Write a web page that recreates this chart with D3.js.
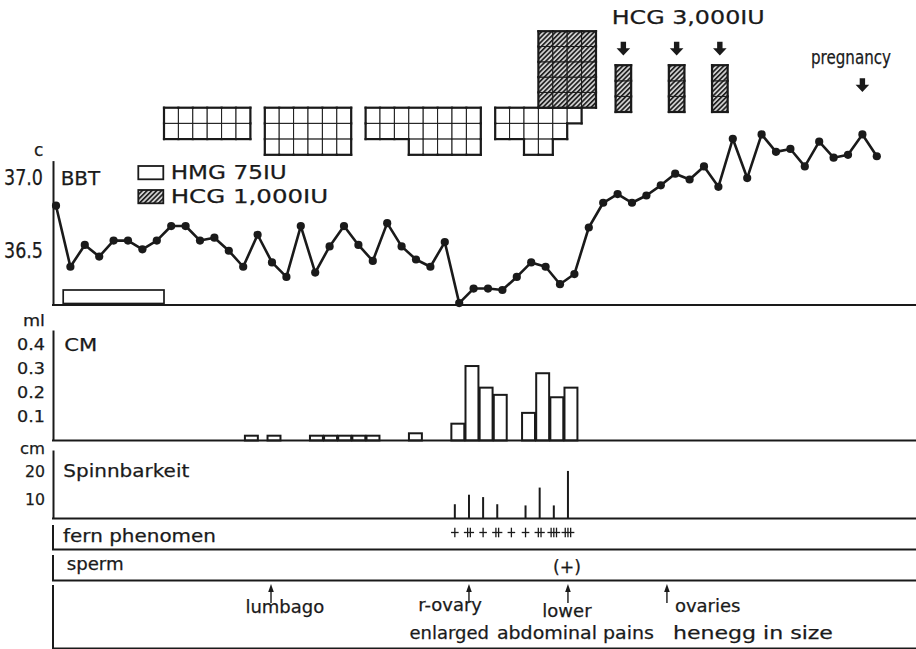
<!DOCTYPE html>
<html>
<head>
<meta charset="utf-8">
<title>BBT chart</title>
<script src="https://cdn.jsdelivr.net/npm/d3@7"></script>
<style>
  body { margin: 0; background: #fff; }
  svg { display: block; }
  text { font-family: "DejaVu Sans", "Liberation Sans", sans-serif; fill: #1a1a1a; stroke: #1a1a1a; stroke-width: 0.25; }
</style>
</head>
<body>
<script>
// ---- values ----

// basal body temperature, one reading per cycle day (day 0 .. 57)
const bbtTemps = [
  36.81, 36.39, 36.54, 36.46, 36.57, 36.57, 36.51, 36.57, 36.67, 36.67,
  36.57, 36.59, 36.50, 36.39, 36.61, 36.42, 36.32, 36.67, 36.35, 36.53,
  36.67, 36.54, 36.43, 36.69, 36.53, 36.44, 36.39, 36.56, 36.14, 36.24,
  36.24, 36.23, 36.32, 36.42, 36.39, 36.27, 36.34, 36.66, 36.83, 36.89,
  36.83, 36.88, 36.95, 37.03, 36.99, 37.08, 36.94, 37.27, 37.00, 37.30,
  37.18, 37.20, 37.08, 37.25, 37.14, 37.16, 37.30, 37.15
];
const bbtTicks = [36.5, 37.0];

// HMG 75IU ampoules per day (open cells)
const hmgDays   = [8, 9, 10, 11, 12, 13, 15, 16, 17, 18, 19, 20, 22, 23, 24, 25, 26, 27, 28, 29, 31, 32, 33, 34, 35, 36];
const hmgCounts = [2, 2, 2, 2, 2, 2, 3, 3, 3, 3, 3, 3, 2, 2, 2, 3, 3, 3, 3, 3, 2, 2, 3, 3, 2, 1];
// HCG 1,000IU ampoules per day (hatched cells)
const hcgDays   = [34, 35, 36, 37];
const hcgCounts = [5, 5, 5, 5];
// HCG 3,000IU shots
const hcg3000Days   = [39.4, 43.1, 46.1];
const hcg3000Counts = [3, 3, 3];
const pregnancyDay = 56;
// open bar at the foot of the BBT panel (first and last day)
const hmgBarDays = [1, 7];

// cervical mucus, ml
const cmDays   = [13.4, 15, 18, 19, 20, 21, 22, 25, 28, 29, 30, 31, 33, 34, 35, 36];
const cmValues = [0.02, 0.02, 0.02, 0.02, 0.02, 0.02, 0.02, 0.03, 0.07, 0.31, 0.22, 0.19, 0.115, 0.28, 0.18, 0.22];
const cmTicks  = [0.1, 0.2, 0.3, 0.4];

// Spinnbarkeit, cm
const spinnDays   = [28, 29, 30, 31, 33, 34, 35, 36];
const spinnValues = [6, 10, 9, 6, 5.5, 13, 5.5, 20];
const spinnTicks  = [10, 20];

// fern phenomen grade (+, ++, +++)
const fernDays   = [28, 29, 30, 31, 32, 33, 34, 35, 36];
const fernGrades = [1, 2, 1, 2, 1, 1, 2, 3, 3];

const spermDay = 36;

// complaints / findings
const eventDays   = [15, 29, 36, 43];
const eventLabels = [["lumbago"], ["r-ovary", "enlarged"], ["lower", "abdominal pains"], ["ovaries", "henegg in size"]];

// ---- layout ----
const W = 916, H = 649;
const axisX = 53, rightX = 916;

const svg = d3.select("body").append("svg")
  .attr("width", W)
  .attr("height", H)
  .attr("viewBox", `0 0 ${W} ${H}`);

const defs = svg.append("defs");
const hatch = defs.append("pattern")
  .attr("id", "hatch")
  .attr("patternUnits", "userSpaceOnUse")
  .attr("width", 3.4).attr("height", 3.4)
  .attr("patternTransform", "rotate(45)");
hatch.append("rect").attr("width", 3.4).attr("height", 3.4).attr("fill", "#cfcfcf");
hatch.append("line").attr("x1", 0.8).attr("y1", 0).attr("x2", 0.8).attr("y2", 3.4)
  .attr("stroke", "#1a1a1a").attr("stroke-width", 1.6);

// day scales: upper part (BBT + injections) and the lower panels were drawn a bit differently
const x    = d3.scaleLinear().domain([0, 57]).range([56, 876.8]);
const xLow = d3.scaleLinear().domain([0, 57]).range([61.9, 867.9]);

const yBBT = d3.scaleLinear().domain([36.127, 37.12]).range([305, 160.6]);
const yCM  = d3.scaleLinear().domain([0, 0.46]).range([440.5, 330]);
const ySp  = d3.scaleLinear().domain([0, 28.8]).range([518.5, 450]);

const ink = "#1a1a1a";

function label(g, s, px, py, size, len, anchor) {
  const t = g.append("text")
    .attr("x", px).attr("y", py)
    .attr("font-size", size)
    .text(s);
  if (len) t.attr("textLength", len).attr("lengthAdjust", "spacingAndGlyphs");
  if (anchor) t.attr("text-anchor", anchor);
  return t;
}

function hline(g, y0, x0, x1, w) {
  g.append("line").attr("x1", x0).attr("x2", x1).attr("y1", y0).attr("y2", y0)
    .attr("stroke", ink).attr("stroke-width", w || 2);
}
function vline(g, x0, y0, y1, w) {
  g.append("line").attr("x1", x0).attr("x2", x0).attr("y1", y0).attr("y2", y1)
    .attr("stroke", ink).attr("stroke-width", w || 2);
}

// ---------- injection grids ----------
const cellH = 15.7, gridBase = 107.7;

function makeCells(daysArr, counts, up, base, h, xl, xr) {
  const out = [];
  daysArr.forEach((d, i) => {
    for (let r = 0; r < counts[i]; r++) {
      const gr = up ? -(r + 1) : r;
      out.push({day: d, gr: gr, x0: xl(d), x1: xr(d), y0: base + gr * h, y1: base + (gr + 1) * h});
    }
  });
  return out;
}

function drawCells(g, cells, fill) {
  g.selectAll(null).data(cells).join("rect")
    .attr("x", c => c.x0).attr("y", c => c.y0)
    .attr("width", c => c.x1 - c.x0).attr("height", c => c.y1 - c.y0)
    .attr("fill", fill).attr("stroke", ink).attr("stroke-width", 1);
  const has = new Set(cells.map(c => c.day + "|" + c.gr));
  const edges = [];
  cells.forEach(c => {
    if (!has.has((c.day - 1) + "|" + c.gr)) edges.push([c.x0, c.y0, c.x0, c.y1]);
    if (!has.has((c.day + 1) + "|" + c.gr)) edges.push([c.x1, c.y0, c.x1, c.y1]);
    if (!has.has(c.day + "|" + (c.gr - 1))) edges.push([c.x0, c.y0, c.x1, c.y0]);
    if (!has.has(c.day + "|" + (c.gr + 1))) edges.push([c.x0, c.y1, c.x1, c.y1]);
  });
  g.selectAll(null).data(edges).join("line")
    .attr("x1", e => e[0]).attr("y1", e => e[1]).attr("x2", e => e[2]).attr("y2", e => e[3])
    .attr("stroke", ink).attr("stroke-width", 2.2).attr("stroke-linecap", "square");
}

const gTop = svg.append("g");
drawCells(gTop, makeCells(hmgDays, hmgCounts, false, gridBase, cellH, d => x(d - 0.5), d => x(d + 0.5)), "#fff");
drawCells(gTop, makeCells(hcgDays, hcgCounts, true, gridBase, 15.3, d => x(d - 0.5), d => x(d + 0.5)), "url(#hatch)");
drawCells(gTop, makeCells(hcg3000Days, hcg3000Counts, true, 112, 15.6, d => x(d) - 7.8, d => x(d) + 7.8), "url(#hatch)");

function fatArrow(g, cx, top) {
  const p = d3.path();
  p.moveTo(cx - 2.7, top);
  p.lineTo(cx + 2.7, top);
  p.lineTo(cx + 2.7, top + 6.5);
  p.lineTo(cx + 6.8, top + 6.5);
  p.lineTo(cx, top + 13.8);
  p.lineTo(cx - 6.8, top + 6.5);
  p.lineTo(cx - 2.7, top + 6.5);
  p.closePath();
  g.append("path").attr("d", p.toString()).attr("fill", ink);
}
hcg3000Days.forEach(d => fatArrow(gTop, x(d), 41.7));
fatArrow(gTop, x(pregnancyDay), 78.3);

label(gTop, "HCG 3,000IU", 611.7, 24, 20, 153);
label(gTop, "pregnancy", 811, 63.5, 19, 80);

// ---------- BBT panel ----------
const gB = svg.append("g");
gB.append("g")
  .attr("transform", `translate(${axisX},0)`)
  .call(d3.axisLeft(yBBT).tickValues(bbtTicks).tickSize(0).tickPadding(10).tickFormat(d3.format(".1f")))
  .call(a => a.select(".domain").attr("stroke", ink).attr("stroke-width", 2))
  .call(a => a.selectAll("text").attr("font-size", 21).attr("font-family", null)
    .attr("fill", ink).attr("textLength", 39).attr("lengthAdjust", "spacingAndGlyphs"));
hline(gB, yBBT.range()[0], axisX - 1, rightX, 2.2);
label(gB, "c", 34, 156, 17);
label(gB, "BBT", 60.7, 185, 20, 39.5);

// legend
gB.append("rect").attr("x", 138.3).attr("y", 166).attr("width", 25).attr("height", 13.3)
  .attr("fill", "#fff").attr("stroke", ink).attr("stroke-width", 1.8);
label(gB, "HMG 75IU", 170.7, 179.3, 20, 116);
gB.append("rect").attr("x", 138.3).attr("y", 190).attr("width", 25).attr("height", 13.3)
  .attr("fill", "url(#hatch)").attr("stroke", ink).attr("stroke-width", 1.8);
label(gB, "HCG 1,000IU", 170.7, 203.3, 20, 157.6);

// open HMG bar at the foot
gB.append("rect")
  .attr("x", x(hmgBarDays[0] - 0.5)).attr("y", yBBT.range()[0] - 15)
  .attr("width", x(hmgBarDays[1] + 0.5) - x(hmgBarDays[0] - 0.5)).attr("height", 13.5)
  .attr("fill", "#fff").attr("stroke", ink).attr("stroke-width", 1.7);

const bbtLine = d3.line().x((d, i) => x(i)).y(d => yBBT(d));
gB.append("path").datum(bbtTemps)
  .attr("d", bbtLine)
  .attr("fill", "none").attr("stroke", ink).attr("stroke-width", 2.6).attr("stroke-linejoin", "round");
gB.selectAll(null).data(bbtTemps).join("circle")
  .attr("cx", (d, i) => x(i)).attr("cy", d => yBBT(d)).attr("r", 4.1)
  .attr("fill", ink);

// ---------- CM panel ----------
const gC = svg.append("g");
gC.append("g")
  .attr("transform", `translate(${axisX},0)`)
  .call(d3.axisLeft(yCM).tickValues(cmTicks).tickSize(0).tickPadding(8).tickFormat(d3.format(".1f")))
  .call(a => a.select(".domain").attr("stroke", ink).attr("stroke-width", 2))
  .call(a => a.selectAll("text").attr("font-size", 16).attr("font-family", null)
    .attr("fill", ink).attr("textLength", 28).attr("lengthAdjust", "spacingAndGlyphs"));
label(gC, "ml", 23, 326, 15, 22);
label(gC, "CM", 64.3, 350.7, 18, 33);
gC.selectAll(null).data(cmDays.map((d, i) => ({d, v: cmValues[i]}))).join("rect")
  .attr("x", o => xLow(o.d - 0.5) + 0.6)
  .attr("width", o => xLow(o.d + 0.5) - xLow(o.d - 0.5) - 1.2)
  .attr("y", o => yCM(o.v))
  .attr("height", o => yCM(0) - yCM(o.v))
  .attr("fill", "#fff").attr("stroke", ink).attr("stroke-width", 2);
hline(gC, yCM(0), axisX - 1, rightX, 2.2);

// ---------- Spinnbarkeit ----------
const gS = svg.append("g");
gS.append("g")
  .attr("transform", `translate(${axisX},0)`)
  .call(d3.axisLeft(ySp).tickValues(spinnTicks).tickSize(0).tickPadding(8))
  .call(a => a.select(".domain").attr("stroke", ink).attr("stroke-width", 2))
  .call(a => a.selectAll("text").attr("font-size", 16).attr("font-family", null)
    .attr("fill", ink).attr("textLength", 20).attr("lengthAdjust", "spacingAndGlyphs")
    .attr("dy", d => d === 10 ? "0.62em" : "0.32em"));
label(gS, "cm", 20, 454, 16, 25);
label(gS, "Spinnbarkeit", 63.3, 476.7, 18, 126);
gS.selectAll(null).data(spinnDays.map((d, i) => ({d, v: spinnValues[i]}))).join("line")
  .attr("x1", o => xLow(o.d) - 3).attr("x2", o => xLow(o.d) - 3)
  .attr("y1", ySp(0)).attr("y2", o => ySp(o.v))
  .attr("stroke", ink).attr("stroke-width", 2);
hline(gS, ySp(0), axisX - 1, rightX, 2.2);

// ---------- fern phenomen ----------
const gF = svg.append("g");
vline(gF, axisX, 525, 549.5);
hline(gF, 549.5, axisX - 1, rightX, 2.2);
label(gF, "fern phenomen", 63, 541.7, 18, 153);
const fernY = 532.5;
fernDays.forEach((d, i) => {
  const cx = xLow(d) - 3, n = fernGrades[i];
  const w = 3.8 + (n - 1) * 1.3;
  gF.append("line").attr("x1", cx - w).attr("x2", cx + w).attr("y1", fernY).attr("y2", fernY)
    .attr("stroke", ink).attr("stroke-width", 1.3);
  d3.range(n).forEach(k => {
    const vx = cx + (k - (n - 1) / 2) * 2.7;
    gF.append("line").attr("x1", vx).attr("x2", vx).attr("y1", fernY - 4.8).attr("y2", fernY + 4.8)
      .attr("stroke", ink).attr("stroke-width", 1.3);
  });
});

// ---------- sperm ----------
const gP = svg.append("g");
vline(gP, axisX, 555, 580.5);
hline(gP, 580.5, axisX - 1, rightX, 2.2);
label(gP, "sperm", 66.7, 570, 18, 57);
label(gP, "(+)", xLow(spermDay) - 4, 572.5, 17, 28, "middle").attr("stroke-width", 0);

// ---------- events ----------
const gE = svg.append("g");
vline(gE, axisX, 585, 648.5);
hline(gE, 648.5, axisX - 1, rightX, 2.2);
// per line: [anchor, offset from arrow, baseline, forced width or 0]
const eventLayout = [
  [["start", -25.6, 613, 0]],
  [["end", 13, 611, 0], ["end", 20, 639, 0]],
  [["middle", -1, 617, 0], ["start", -71, 639, 157]],
  [["start", 8, 612, 0], ["start", 6, 639, 160]]
];
eventDays.forEach((d, i) => {
  const ax = xLow(d) - 3;
  gE.append("line").attr("x1", ax).attr("x2", ax).attr("y1", 589).attr("y2", 603)
    .attr("stroke", ink).attr("stroke-width", 1.4);
  gE.append("path")
    .attr("d", `M${ax},584 L${ax - 2.8},592 L${ax + 2.8},592 Z`)
    .attr("fill", ink);
  eventLabels[i].forEach((s, j) => {
    const L = eventLayout[i][j];
    label(gE, s, ax + L[1], L[2], 18, L[3] || null, L[0]);
  });
});
</script>
</body>
</html>
